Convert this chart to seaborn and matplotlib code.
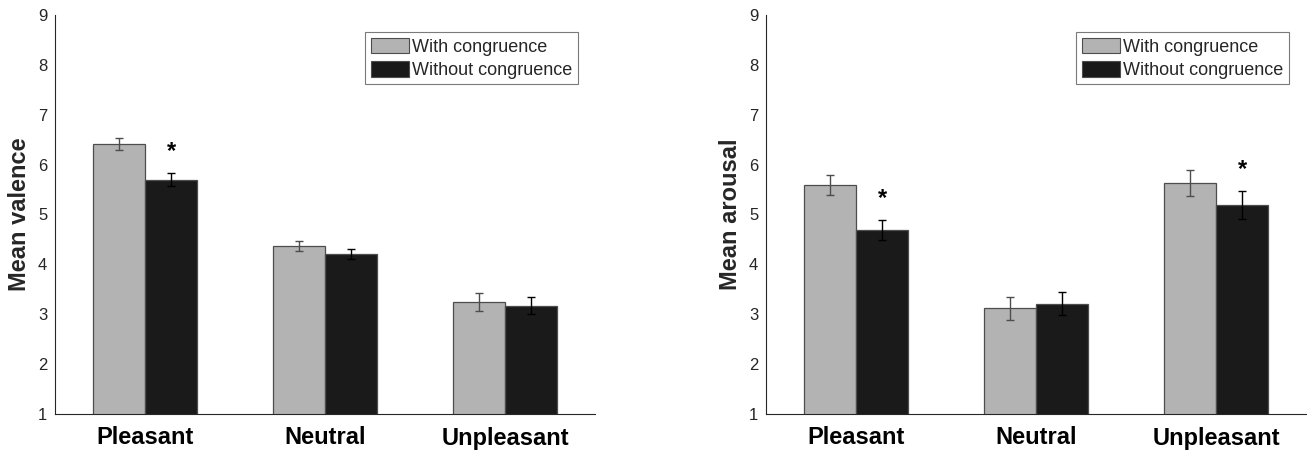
import matplotlib
matplotlib.use('Agg')
import matplotlib.pyplot as plt
import seaborn as sns
import pandas as pd

# values
categories = ['Pleasant', 'Neutral', 'Unpleasant']
conditions = ['With congruence', 'Without congruence']

valence_with = [6.42, 4.37, 3.24]
valence_without = [5.70, 4.21, 3.17]
valence_err_with = [0.12, 0.10, 0.18]
valence_err_without = [0.13, 0.10, 0.17]
valence_stars = [True, False, False]

arousal_with = [5.59, 3.12, 5.64]
arousal_without = [4.69, 3.21, 5.19]
arousal_err_with = [0.20, 0.23, 0.26]
arousal_err_without = [0.20, 0.23, 0.28]
arousal_stars = [True, False, True]

y_ticks = [1, 2, 3, 4, 5, 6, 7, 8, 9]

LIGHT = '#b3b3b3'
DARK = '#1a1a1a'
INK = '#262626'

sns.set_style('white')
plt.rcParams['font.family'] = ['Liberation Sans', 'DejaVu Sans']


def make_frame(with_vals, without_vals):
    rows = []
    for cond, vals in zip(conditions, [with_vals, without_vals]):
        for cat, v in zip(categories, vals):
            rows.append({'category': cat, 'condition': cond, 'value': v})
    return pd.DataFrame(rows)


def draw_panel(ax, with_vals, without_vals, err_with, err_without, stars, ylabel):
    df = make_frame(with_vals, without_vals)
    sns.barplot(data=df, x='category', y='value', hue='condition',
                palette=[LIGHT, DARK], width=0.58, errorbar=None,
                edgecolor='#4d4d4d', linewidth=0.9, saturation=1,
                ax=ax, legend=False)
    errs = [err_with, err_without]
    ecolors = ['#4d4d4d', '#000000']
    for cont, err, ec in zip(ax.containers, errs, ecolors):
        xs = [p.get_x() + p.get_width() / 2 for p in cont.patches]
        hs = [p.get_height() for p in cont.patches]
        ax.errorbar(xs, hs, yerr=err, fmt='none', ecolor=ec,
                    elinewidth=1.0, capsize=3.2, capthick=1.0, zorder=5)
    # significance marks above the "without" bars
    cont = ax.containers[1]
    for p, e, s in zip(cont.patches, err_without, stars):
        if s:
            ax.text(p.get_x() + p.get_width() / 2, p.get_height() + e + 0.2, '*',
                    ha='center', va='bottom', fontsize=17, fontweight='bold',
                    color='black')

    ax.set_ylim(1, 9)
    ax.set_xlim(-0.5, 2.5)
    ax.set_yticks(y_ticks)
    ax.set_xlabel('')
    ax.set_ylabel(ylabel, fontsize=17, fontweight='bold', labelpad=5)
    ax.tick_params(axis='y', direction='in', length=4, width=0.8,
                   labelsize=12, colors=INK, pad=5.5)
    ax.tick_params(axis='x', length=0, pad=9)
    for lab in ax.get_xticklabels():
        lab.set_fontsize(17)
        lab.set_fontweight('bold')
        lab.set_color('black')
    sns.despine(ax=ax)
    for side in ['left', 'bottom']:
        ax.spines[side].set_color(INK)
        ax.spines[side].set_linewidth(0.8)

    handles = [plt.Rectangle((0, 0), 1, 1, facecolor=LIGHT, edgecolor='#4d4d4d', linewidth=0.8),
               plt.Rectangle((0, 0), 1, 1, facecolor=DARK, edgecolor='#4d4d4d', linewidth=0.8)]
    leg = ax.legend(handles, conditions, loc='upper right', fontsize=13,
                    frameon=True, fancybox=False, framealpha=1,
                    edgecolor='#7a7a7a', borderpad=0.3, labelspacing=0.3,
                    handlelength=2.1, handleheight=0.95, handletextpad=0.2,
                    borderaxespad=0.95)
    leg.get_frame().set_linewidth(0.8)


fig = plt.figure(figsize=(13.07, 4.51), dpi=100)
ax1 = fig.add_axes([55 / 1307, 37 / 451, 540 / 1307, 399 / 451])
ax2 = fig.add_axes([766 / 1307, 37 / 451, 540 / 1307, 399 / 451])

draw_panel(ax1, valence_with, valence_without, valence_err_with,
           valence_err_without, valence_stars, 'Mean valence')
draw_panel(ax2, arousal_with, arousal_without, arousal_err_with,
           arousal_err_without, arousal_stars, 'Mean arousal')

fig.savefig('out.png', dpi=100)
